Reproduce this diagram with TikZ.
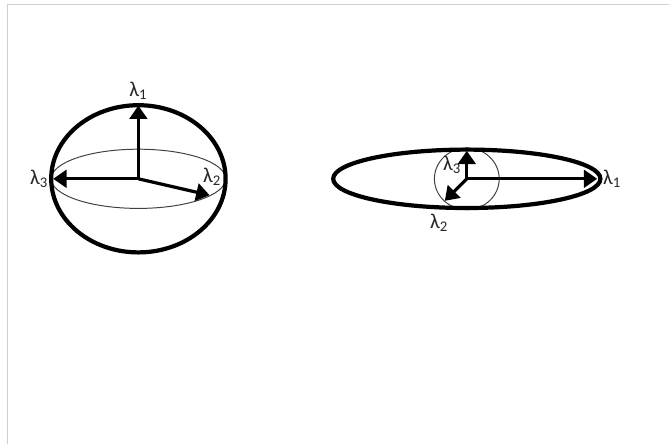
\documentclass[tikz,border=0pt]{standalone}
\usepackage{fontspec}
\setmainfont{Carlito}
\usetikzlibrary{arrows.meta}
\definecolor{ink}{HTML}{000000}
\definecolor{frame}{HTML}{CFCFCF}

\begin{document}
\begin{tikzpicture}[>={Triangle[length=9.5pt,width=12.5pt]},
    shell/.style={draw=ink,line width=3pt},
    thin shell/.style={draw=ink!75,line width=0.7pt},
    axis/.style={->,draw=ink,line width=2.3pt},
    lam/.style={text=ink!85,font=\fontsize{15}{17}\selectfont,inner sep=0pt}]
  \useasboundingbox (0,0) rectangle (16.725,11.1);
  \draw[frame,line width=0.9pt] (0.18,0) -- (0.18,10.98) -- (16.725,10.98);

  % Nearly round body.
  \coordinate (A) at (3.46,6.63);
  \draw[thin shell] (A) ellipse [x radius=2.18,y radius=0.74];
  \draw[shell] (A) ellipse [x radius=2.18,y radius=1.84];
  \coordinate (A1) at (3.46,8.46);
  \coordinate (A2) at (5.24,6.22);
  \coordinate (A3) at (1.33,6.63);
  \draw[axis] (A) -- (A1);
  \draw[axis] (A) -- (A2);
  \draw[axis] (A) -- (A3);
  \node[lam] (a1) at (3.46,8.83) {λ\textsubscript{1}};
  \node[lam] (a2) at (5.30,6.68) {λ\textsubscript{2}};
  \node[lam] (a3) at (0.98,6.62) {λ\textsubscript{3}};

  % Long flat body.
  \coordinate (B) at (11.67,6.63);
  \draw[thin shell] (B) ellipse [x radius=0.81,y radius=0.77];
  \draw[shell] (B) ellipse [x radius=3.34,y radius=0.73];
  \coordinate (B1) at (14.93,6.63);
  \coordinate (B2) at (11.12,6.08);
  \coordinate (B3) at (11.67,7.33);
  \draw[axis] (B) -- (B1);
  \draw[axis] (B) -- (B2);
  \draw[axis] (B) -- (B3);
  \node[lam] (b1) at (15.30,6.62) {λ\textsubscript{1}};
  \node[lam] (b2) at (10.98,5.53) {λ\textsubscript{2}};
  \node[lam] (b3) at (11.30,6.98) {λ\textsubscript{3}};
\end{tikzpicture}
\end{document}
